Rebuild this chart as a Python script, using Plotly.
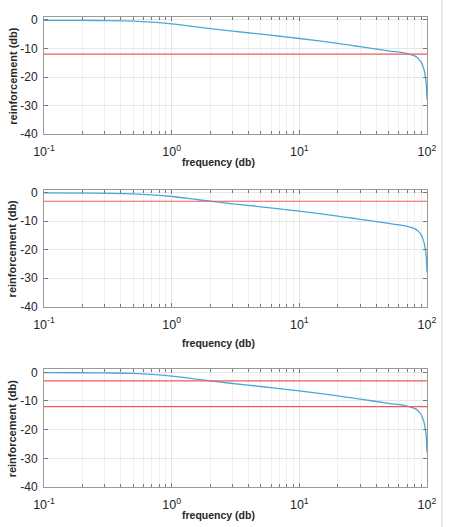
import plotly.graph_objects as go
from plotly.subplots import make_subplots

# Data
freq = [0.1, 0.2, 0.3, 0.5, 0.7, 1.0, 1.5, 2.0, 3.0, 5.0, 7.0, 10.0, 20.0, 30.0, 50.0,
        70.0, 80.0, 85.0, 90.0, 93.0, 95.0, 97.0, 98.0, 99.0, 99.5, 100.0]
gain = [-0.1, -0.15, -0.22, -0.4, -0.75, -1.35, -2.3, -3.0, -3.9, -4.95, -5.7, -6.5, -8.2,
        -9.35, -10.8, -11.8, -12.6, -13.4, -14.8, -16.3, -17.6, -19.8, -21.3, -23.6, -25.5, -28.0]
thresholds = [[-12], [-3], [-3, -12]]

x_tickvals = [0.1, 1, 10, 100]
x_ticktext = ["10<sup>-1</sup>", "10<sup>0</sup>", "10<sup>1</sup>", "10<sup>2</sup>"]
y_tickvals = [0, -10, -20, -30, -40]
y_ticktext = ["0", "-10", "-20", "-30", "-40"]
x_title = "frequency (db)"
y_title = "reinforcement (db)"

fig = make_subplots(rows=3, cols=1)

domains = [[0.751, 1.0], [0.3836, 0.6326], [0.0, 0.2504]]
xtitle_y = [0.6915, 0.3064, -0.06]
txt = "#262626"
font = "Liberation Sans, Arial, sans-serif"

for i in range(3):
    r = i + 1
    fig.add_trace(go.Scatter(x=freq, y=gain, mode="lines", line_shape="spline",
                             line=dict(color="#4aa8d8", width=1.3), showlegend=False),
                  row=r, col=1)
    for t in thresholds[i]:
        fig.add_trace(go.Scatter(x=[freq[0], freq[-1]], y=[t, t], mode="lines",
                                 line=dict(color="#f25a5a", width=1.2), showlegend=False),
                      row=r, col=1)
    fig.update_xaxes(type="log", range=[-1, 2], tickvals=x_tickvals, ticktext=x_ticktext,
                     showgrid=True, gridcolor="#e6e6e6", gridwidth=1,
                     minor=dict(showgrid=True, gridcolor="#f0f0f0", ticks="inside",
                                ticklen=3, tickcolor="#777", dtick="D1"),
                     ticks="inside", ticklen=4, tickcolor="#777",
                     showline=True, linecolor="#9a9a9a", linewidth=1, mirror="allticks",
                     zeroline=False, ticklabelstandoff=6,
                     tickfont=dict(size=12.5, color=txt, family=font),
                     row=r, col=1)
    fig.update_yaxes(range=[-40, 1.05], tickvals=y_tickvals, ticktext=y_ticktext,
                     showgrid=True, gridcolor="#e6e6e6", gridwidth=1,
                     ticks="inside", ticklen=4, tickcolor="#777",
                     showline=True, linecolor="#9a9a9a", linewidth=1, mirror="allticks",
                     zeroline=False, domain=domains[i], ticklabelstandoff=3,
                     tickfont=dict(size=12, color=txt, family=font),
                     row=r, col=1)
    fig.add_annotation(text="<b>" + x_title + "</b>", xref="paper", yref="paper",
                       x=0.455, y=xtitle_y[i], xanchor="center", yanchor="middle",
                       showarrow=False, font=dict(size=10.5, color=txt, family=font))
    fig.add_annotation(text="<b>" + y_title + "</b>", xref="paper", yref="paper",
                       x=-0.083, y=(domains[i][0] + domains[i][1]) / 2,
                       xanchor="center", yanchor="middle", textangle=-90,
                       showarrow=False, font=dict(size=11, color=txt, family=font))

fig.add_shape(type="line", xref="paper", yref="paper", x0=1.039, x1=1.039, y0=-0.2, y1=1.1,
              line=dict(color="#d4d4d4", width=1))

fig.update_layout(width=449, height=527, margin=dict(l=44, r=18, t=17, b=40),
                  paper_bgcolor="white", plot_bgcolor="white")

fig.write_html("out.html")
